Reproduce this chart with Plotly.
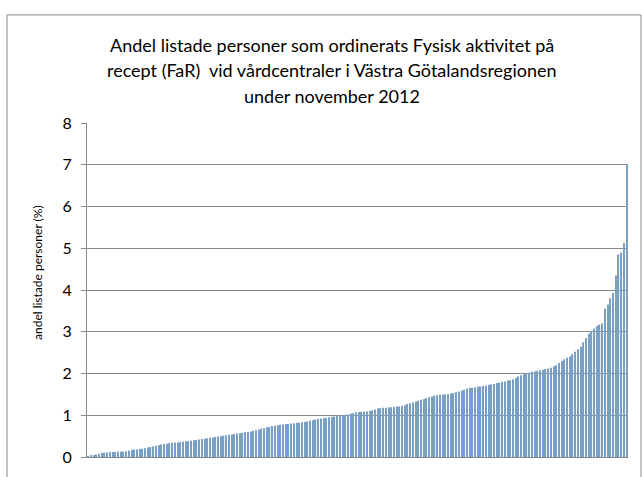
import plotly.graph_objects as go

title_lines = [
    "Andel listade personer som ordinerats Fysisk aktivitet på",
    "recept (FaR)  vid vårdcentraler i Västra Götalandsregionen",
    "under november 2012",
]
y_title = "andel listade personer (%)"
y_ticks = [0, 1, 2, 3, 4, 5, 6, 7, 8]

values = [
    0.02, 0.03, 0.05, 0.06, 0.08, 0.10, 0.10, 0.11, 0.12, 0.12,
    0.12, 0.13, 0.13, 0.13, 0.14, 0.15, 0.17, 0.18, 0.18, 0.19,
    0.20, 0.21, 0.23, 0.24, 0.26, 0.27, 0.29, 0.30, 0.31, 0.32,
    0.33, 0.34, 0.35, 0.35, 0.36, 0.37, 0.38, 0.38, 0.39, 0.40,
    0.41, 0.42, 0.43, 0.44, 0.45, 0.46, 0.47, 0.48, 0.49, 0.50,
    0.51, 0.52, 0.53, 0.54, 0.55, 0.56, 0.57, 0.58, 0.59, 0.60,
    0.61, 0.63, 0.64, 0.66, 0.68, 0.69, 0.71, 0.72, 0.74, 0.75,
    0.76, 0.77, 0.78, 0.79, 0.79, 0.80, 0.81, 0.82, 0.82, 0.83,
    0.84, 0.85, 0.87, 0.88, 0.90, 0.91, 0.92, 0.93, 0.94, 0.95,
    0.96, 0.97, 0.98, 0.99, 1.00, 1.01, 1.02, 1.04, 1.05, 1.07,
    1.08, 1.08, 1.09, 1.09, 1.10, 1.12, 1.14, 1.16, 1.17, 1.18,
    1.18, 1.19, 1.19, 1.20, 1.21, 1.21, 1.22, 1.24, 1.27, 1.29,
    1.31, 1.33, 1.35, 1.37, 1.39, 1.41, 1.43, 1.45, 1.47, 1.48,
    1.49, 1.50, 1.50, 1.51, 1.52, 1.53, 1.55, 1.57, 1.59, 1.61,
    1.64, 1.65, 1.66, 1.67, 1.68, 1.69, 1.70, 1.71, 1.73, 1.74,
    1.75, 1.77, 1.78, 1.80, 1.81, 1.83, 1.84, 1.86, 1.89, 1.93,
    1.96, 1.98, 2.00, 2.02, 2.04, 2.05, 2.06, 2.08, 2.09, 2.11,
    2.12, 2.14, 2.17, 2.20, 2.25, 2.30, 2.34, 2.38, 2.41, 2.46,
    2.52, 2.58, 2.64, 2.75, 2.85, 2.95, 3.02, 3.08, 3.14, 3.17,
    3.20, 3.55, 3.65, 3.80, 3.93, 4.35, 4.85, 4.89, 5.12, 7.00,
]
centres = list(range(1, len(values) + 1))

FONT = "Lato, Open Sans, sans-serif"
W, H = 642, 477
L, R, T, B = 87, 14, 123, 11
PW, PH = W - L - R, H - T - B


def px_x(x):
    return (x - L) / PW


def px_y(y):
    return (H - B - y) / PH


fig = go.Figure(
    go.Bar(
        x=centres,
        y=values,
        marker=dict(color="#7a9fc4", line=dict(width=0)),
    )
)

annotations = [
    dict(
        text=line,
        xref="paper",
        yref="paper",
        x=px_x(332),
        y=px_y(yc),
        xanchor="center",
        yanchor="middle",
        showarrow=False,
        font=dict(family=FONT, size=18, color="#000000"),
    )
    for line, yc in zip(title_lines, [43, 69, 95])
]
annotations.append(
    dict(
        text=y_title,
        xref="paper",
        yref="paper",
        x=px_x(38),
        y=px_y(277),
        xanchor="center",
        yanchor="middle",
        textangle=-90,
        showarrow=False,
        font=dict(family=FONT, size=12, color="#000000"),
    )
)

fig.update_layout(
    width=W,
    height=H,
    margin=dict(l=L, r=R, t=T, b=B),
    paper_bgcolor="white",
    plot_bgcolor="white",
    bargap=0.55,
    showlegend=False,
    font=dict(family=FONT, color="#000000"),
    annotations=annotations,
    shapes=[
        dict(
            type="rect",
            xref="paper",
            yref="paper",
            x0=px_x(7),
            x1=px_x(641),
            y0=-0.2,
            y1=px_y(12),
            line=dict(color="#8a8a8a", width=1),
            fillcolor="rgba(0,0,0,0)",
            layer="below",
        )
    ],
)

fig.update_xaxes(
    range=[0.5, len(values) + 0.5],
    showticklabels=False,
    ticks="",
    showgrid=False,
    showline=True,
    linecolor="#8a8a8a",
    linewidth=1,
    zeroline=False,
)

fig.update_yaxes(
    range=[0, 8],
    tickvals=y_ticks,
    ticktext=[str(v) for v in y_ticks],
    ticks="outside",
    ticklen=5,
    tickcolor="#8a8a8a",
    ticklabelstandoff=6,
    showline=True,
    linecolor="#8a8a8a",
    linewidth=1,
    showgrid=True,
    gridcolor="#8a8a8a",
    gridwidth=1,
    zeroline=False,
    tickfont=dict(family=FONT, size=16, color="#000000"),
)

fig.write_html("out.html")
